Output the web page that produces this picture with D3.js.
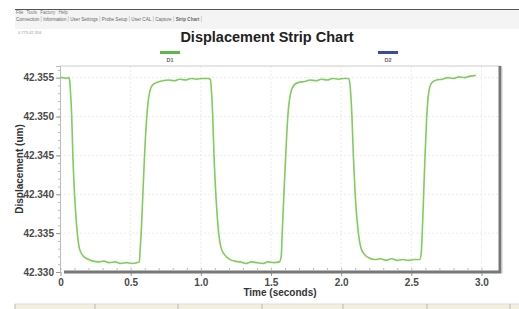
<!DOCTYPE html>
<html>
<head>
<meta charset="utf-8">
<script src="https://cdn.jsdelivr.net/npm/d3@7"></script>
<style>
  body { margin: 0; background: #fff; }
  svg { display: block; font-family: "Liberation Sans", Arial, sans-serif; }
  .tick text { font-weight: bold; fill: #4a4a4a; }
</style>
</head>
<body>
<svg id="canvas" width="519" height="309"></svg>
<script>
// D1 trace (time in s, displacement in um)
let times = [
  0.000, 0.020, 0.040, 0.058, 0.064,
  0.070, 0.080, 0.088, 0.100, 0.115, 0.135, 0.160, 0.190, 0.230,
  0.270, 0.310, 0.350, 0.390, 0.430, 0.470, 0.510, 0.545, 0.562,
  0.568, 0.575, 0.587, 0.599, 0.615, 0.634, 0.658, 0.690, 0.727, 0.770,
  0.810, 0.850, 0.890, 0.930, 0.970, 1.010, 1.050, 1.068,
  1.075, 1.085, 1.094, 1.107, 1.122, 1.143, 1.170, 1.200, 1.240,
  1.280, 1.320, 1.360, 1.400, 1.440, 1.480, 1.520, 1.560,
  1.573, 1.580, 1.592, 1.605, 1.620, 1.640, 1.668, 1.700, 1.740, 1.780,
  1.820, 1.860, 1.900, 1.940, 1.980, 2.020, 2.055,
  2.066, 2.077, 2.087, 2.100, 2.117, 2.143, 2.170, 2.200, 2.240,
  2.280, 2.320, 2.360, 2.400, 2.440, 2.480, 2.520, 2.560,
  2.571, 2.578, 2.588, 2.598, 2.610, 2.625, 2.645, 2.680, 2.720, 2.760,
  2.800, 2.840, 2.880, 2.920, 2.960
];
let d1Values = [
  42.3550, 42.3550, 42.3549, 42.3550, 42.3548,
  42.3535, 42.3500, 42.3450, 42.3400, 42.3360, 42.3330, 42.3321, 42.3317, 42.3314,
  42.3313, 42.3314, 42.3312, 42.3313, 42.3311, 42.3312, 42.3311, 42.3312, 42.3313,
  42.3330, 42.3350, 42.3400, 42.3450, 42.3500, 42.3530, 42.3541, 42.3544, 42.3546, 42.3547,
  42.3546, 42.3548, 42.3547, 42.3549, 42.3548, 42.3549, 42.3549, 42.3548,
  42.3535, 42.3500, 42.3450, 42.3400, 42.3360, 42.3332, 42.3322, 42.3317, 42.3314,
  42.3313, 42.3311, 42.3313, 42.3312, 42.3311, 42.3313, 42.3312, 42.3313,
  42.3320, 42.3350, 42.3400, 42.3450, 42.3500, 42.3530, 42.3541, 42.3544, 42.3545, 42.3547,
  42.3546, 42.3548, 42.3547, 42.3549, 42.3548, 42.3549, 42.3549,
  42.3535, 42.3500, 42.3450, 42.3400, 42.3360, 42.3330, 42.3322, 42.3318, 42.3316,
  42.3317, 42.3315, 42.3317, 42.3315, 42.3316, 42.3315, 42.3316, 42.3316,
  42.3325, 42.3350, 42.3400, 42.3450, 42.3500, 42.3532, 42.3543, 42.3547, 42.3548, 42.3550,
  42.3549, 42.3551, 42.3550, 42.3552, 42.3553
];

let yTicks = [42.330, 42.335, 42.340, 42.345, 42.350, 42.355];
let xTicks = [0, 0.5, 1.0, 1.5, 2.0, 2.5, 3.0];
let tabNames = ['Connection', 'Information', 'User Settings', 'Probe Setup', 'User CAL', 'Capture', 'Strip Chart'];
let legendNames = ['D1', 'D2'];
let legendColors = ['#5cb84a', '#3d4a9e'];

let canvas = d3.select('#canvas');

const drawWindow = () => {
  // window chrome round the chart
  canvas.append('line').attr('x1', 15).attr('x2', 519).attr('y1', 9.5).attr('y2', 9.5)
    .attr('stroke', '#555').attr('stroke-width', 1);
  canvas.append('rect').attr('x', 15).attr('y', 10).attr('width', 504).attr('height', 19)
    .attr('fill', '#f4f4f4');
  canvas.append('text').attr('x', 16).attr('y', 14).attr('font-size', 4.5).attr('fill', '#777')
    .attr('word-spacing', 2)
    .text('File Tools Factory Help');

  let tabX = 16;
  tabNames.forEach((name, i) => {
    let t = canvas.append('text').attr('x', tabX).attr('y', 20.5).attr('font-size', 4.6)
      .attr('fill', '#666').attr('font-weight', i === tabNames.length - 1 ? 'bold' : 'normal')
      .text(name);
    let w = t.node().getComputedTextLength();
    tabX += w + 2;
    canvas.append('line').attr('x1', tabX).attr('x2', tabX).attr('y1', 16).attr('y2', 22)
      .attr('stroke', '#bbb').attr('stroke-width', 0.6);
    tabX += 2;
  });

  canvas.append('text').attr('x', 18).attr('y', 34).attr('font-size', 4).attr('fill', '#999')
    .text('0.773 42.356');

  // status bar
  let cells = [15, 95, 178, 262, 343, 427, 510];
  canvas.append('rect').attr('x', 15).attr('y', 304).attr('width', 504).attr('height', 5)
    .attr('fill', '#f2f0dc');
  canvas.append('line').attr('x1', 15).attr('x2', 519).attr('y1', 304).attr('y2', 304)
    .attr('stroke', '#ddd');
  cells.forEach((c) => {
    canvas.append('line').attr('x1', c).attr('x2', c).attr('y1', 304).attr('y2', 309)
      .attr('stroke', '#aaa').attr('stroke-width', 0.8);
  });
};

const drawChart = () => {
  let left = 60, right = 500, top = 66, bottom = 272;

  let xScale = d3.scaleLinear().domain([0, 3.125]).range([left + 0.5, right - 1]);
  let yScale = d3.scaleLinear().domain([42.330, 42.3565]).range([bottom, top]);

  // grid
  canvas.append('g').selectAll('line').data(yTicks.slice(1)).enter().append('line')
    .attr('x1', left).attr('x2', right)
    .attr('y1', (d) => yScale(d)).attr('y2', (d) => yScale(d))
    .attr('stroke', '#ebebeb').attr('stroke-dasharray', '2,2');
  canvas.append('g').selectAll('line').data(xTicks.slice(1)).enter().append('line')
    .attr('x1', (d) => xScale(d)).attr('x2', (d) => xScale(d))
    .attr('y1', top).attr('y2', bottom)
    .attr('stroke', '#ebebeb').attr('stroke-dasharray', '2,2');

  // top border
  canvas.append('line').attr('x1', left).attr('x2', right).attr('y1', top).attr('y2', top)
    .attr('stroke', '#ccc');

  // y axis with minor ticks
  let yMinor = d3.axisLeft(yScale).ticks(25).tickSize(2).tickFormat('');
  canvas.append('g').attr('transform', `translate(${left},0)`).call(yMinor)
    .call((g) => g.select('.domain').remove())
    .selectAll('line').attr('stroke', '#bbb');
  let yAxis = d3.axisLeft(yScale).tickValues(yTicks).tickSize(4).tickPadding(2)
    .tickFormat(d3.format('.3f'));
  let gy = canvas.append('g').attr('transform', `translate(${left},0)`).call(yAxis);
  gy.select('.domain').attr('stroke', '#bbb');
  gy.selectAll('.tick line').attr('stroke', '#999');
  gy.selectAll('text').attr('font-size', 10);

  // x axis
  let xMinor = d3.axisBottom(xScale).tickValues(d3.range(0, 3.01, 0.1)).tickSize(-2).tickFormat('');
  canvas.append('g').attr('transform', `translate(0,${bottom - 2})`).call(xMinor)
    .call((g) => g.select('.domain').remove())
    .selectAll('line').attr('stroke', '#bbb');
  let xAxis = d3.axisBottom(xScale).tickValues(xTicks).tickSize(4).tickPadding(3)
    .tickFormat((d) => d === 0 ? '0' : d3.format('.1f')(d));
  let gx = canvas.append('g').attr('transform', `translate(0,${bottom})`).call(xAxis);
  gx.select('.domain').remove();
  gx.selectAll('.tick line').attr('stroke', '#999');
  gx.selectAll('text').attr('font-size', 10);

  // thick frame: bottom and right with shadow
  canvas.append('line').attr('x1', left + 4).attr('x2', right + 1).attr('y1', bottom).attr('y2', bottom)
    .attr('stroke', '#777').attr('stroke-width', 3);
  canvas.append('line').attr('x1', right).attr('x2', right).attr('y1', top).attr('y2', bottom + 1)
    .attr('stroke', '#777').attr('stroke-width', 3);
  canvas.append('line').attr('x1', right + 2).attr('x2', right + 2).attr('y1', top + 2).attr('y2', bottom + 2)
    .attr('stroke', '#ccc').attr('stroke-width', 1);

  // trace
  let points = times.map((t, i) => [t, d1Values[i]]);
  let line = d3.line().x((d) => xScale(d[0])).y((d) => yScale(d[1])).curve(d3.curveMonotoneX);
  canvas.append('path').datum(points).attr('d', line)
    .attr('fill', 'none').attr('stroke', '#80cc5c').attr('stroke-width', 1.6);

  // titles
  canvas.append('text').attr('x', 267).attr('y', 42).attr('text-anchor', 'middle')
    .attr('font-size', 14.5).attr('font-weight', 'bold').attr('fill', '#222')
    .text('Displacement Strip Chart');
  canvas.append('text').attr('x', 280).attr('y', 296).attr('text-anchor', 'middle')
    .attr('font-size', 10).attr('font-weight', 'bold').attr('fill', '#333')
    .text('Time (seconds)');
  canvas.append('text').attr('transform', `translate(23,${(top + bottom) / 2}) rotate(-90)`)
    .attr('text-anchor', 'middle').attr('font-size', 10).attr('font-weight', 'bold').attr('fill', '#333')
    .text('Displacement (um)');

  // legend
  let legendX = [170, 388];
  legendNames.forEach((name, i) => {
    canvas.append('rect').attr('x', legendX[i] - 10).attr('y', 51).attr('width', 20).attr('height', 3)
      .attr('fill', legendColors[i]);
    canvas.append('text').attr('x', legendX[i]).attr('y', 62).attr('text-anchor', 'middle')
      .attr('font-size', 5.5).attr('font-weight', 'bold').attr('fill', '#666').text(name);
  });
};

drawWindow();
drawChart();
</script>
</body>
</html>
